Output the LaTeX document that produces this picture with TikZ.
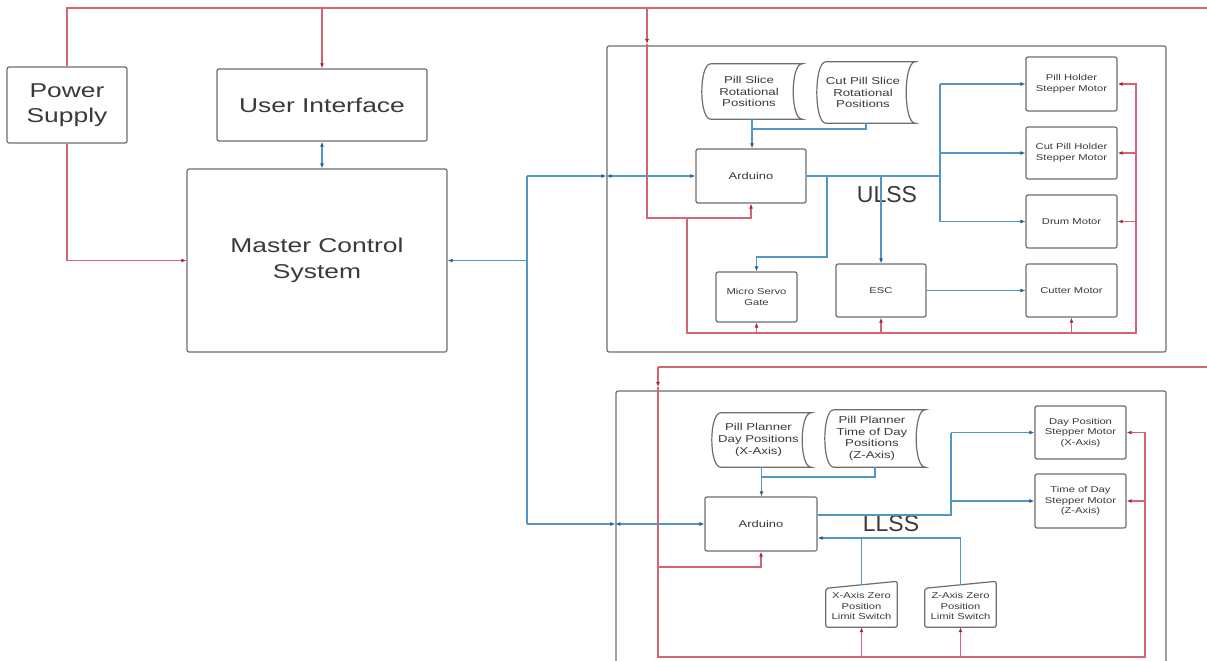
\documentclass[tikz,border=0pt]{standalone}
\usepackage{fontspec}
\setmainfont{Liberation Sans}
\newfontfamily\widesans{Liberation Sans}[FakeStretch=1.32]
\usetikzlibrary{arrows.meta,calc}

\definecolor{pwr}{HTML}{D46474}
\definecolor{pwrtip}{HTML}{A02A3C}
\definecolor{sig}{HTML}{5296C6}
\definecolor{sigtip}{HTML}{2B5F88}
\definecolor{edge}{HTML}{6E6E6E}
\definecolor{ink}{HTML}{3A3A3A}

\tikzset{
  box/.style={draw=edge, line width=1.2pt, rounded corners=2pt, align=center,
    text=ink, inner sep=0pt},
  frame/.style={draw=edge, line width=1.2pt, rounded corners=2pt, inner sep=0pt},
  ghost/.style={draw=none, align=center, text=ink, inner sep=0pt},
  shapeedge/.style={draw=edge, line width=1.2pt},
  bigtxt/.style={font=\widesans\fontsize{20}{25}\selectfont},
  labeltxt/.style={font=\fontsize{23}{26}\selectfont, text=ink},
  datatxt/.style={font=\widesans\fontsize{10}{11.8}\selectfont},
  ardtxt/.style={font=\widesans\fontsize{9.8}{11}\selectfont},
  smalltxt/.style={font=\widesans\fontsize{8.5}{10.5}\selectfont},
  redline/.style={draw=pwr, line width=1.3pt},
  redarrow/.style={draw=pwr, line width=1.3pt, -{Latex[length=5pt,width=4pt,color=pwrtip]}},
  sigline/.style={draw=sig, line width=1.3pt},
  sigarrow/.style={draw=sig, line width=1.3pt, -{Latex[length=5pt,width=4pt,color=sigtip]}},
  sigboth/.style={draw=sig, line width=1.3pt,
    {Latex[length=5pt,width=4pt,color=sigtip]}-{Latex[length=5pt,width=4pt,color=sigtip]}},
}

% stored-data outline: left edge bulges out, right edge curves in
\newcommand\storedshape[1]{%
  \draw[shapeedge] ([xshift=9pt]#1.north west) -- (#1.north east)
    .. controls ([xshift=-12pt]#1.north east) and ([xshift=-12pt]#1.south east) .. (#1.south east)
    -- ([xshift=9pt]#1.south west)
    .. controls ([xshift=-3pt]#1.south west) and ([xshift=-3pt]#1.north west) .. cycle;}
% manual-input outline: slanted top edge
\newcommand\switchshape[1]{%
  \draw[shapeedge, rounded corners=2pt] ([yshift=-3.5pt]#1.north west) -- ([yshift=3.5pt]#1.north east)
    -- (#1.south east) -- (#1.south west) -- cycle;}

\begin{document}
\begin{tikzpicture}[x=1pt,y=-1pt]
\useasboundingbox (0,0) rectangle (1207,661);
\clip (0,0) rectangle (1207,661);
\fill[white] (0,0) rectangle (1207,661);

% ---------- main blocks ----------
\node[box, bigtxt, minimum width=120pt, minimum height=76pt] (ps) at (67,105) {Power\\Supply};
\node[box, bigtxt, minimum width=210pt, minimum height=72pt] (ui) at (322,105) {User Interface};
\node[box, bigtxt, minimum width=260pt, minimum height=183pt, font=\widesans\fontsize{20}{26}\selectfont] (mcs) at (317,260.5) {Master Control\\System};

% ---------- upper subsystem ----------
\node[frame, minimum width=559pt, minimum height=306pt] (ulss) at (886.5,199) {};
\node[labeltxt] (ulsslabel) at (887,195) {ULSS};

\node[box, ardtxt, minimum width=110pt, minimum height=54pt] (ard) at (751,176) {Arduino};
\node[ghost, minimum width=100pt, minimum height=55pt] (psrp) at (752,91.5) {};
\node[ghost, minimum width=98pt, minimum height=61pt] (cpsrp) at (866,92.5) {};
\storedshape{psrp}
\storedshape{cpsrp}
\node[ghost, datatxt] (psrptxt) at ([xshift=-3pt]psrp.center) {Pill Slice\\Rotational\\Positions};
\node[ghost, datatxt] (cpsrptxt) at ([xshift=-3pt]cpsrp.center) {Cut Pill Slice\\Rotational\\Positions};

\node[box, smalltxt, minimum width=91pt, minimum height=54pt] (phsm) at (1071.5,84) {Pill Holder\\Stepper Motor};
\node[box, smalltxt, minimum width=91pt, minimum height=52pt] (cphsm) at (1071.5,153) {Cut Pill Holder\\Stepper Motor};
\node[box, smalltxt, minimum width=91pt, minimum height=53pt] (drum) at (1071.5,221.5) {Drum Motor};
\node[box, smalltxt, minimum width=91pt, minimum height=53pt] (cutter) at (1071.5,290.5) {Cutter Motor};
\node[box, smalltxt, minimum width=81pt, minimum height=50pt] (msg) at (756.5,297) {Micro Servo\\Gate};
\node[box, smalltxt, minimum width=90pt, minimum height=53pt] (esc) at (881,290.5) {ESC};

% ---------- lower subsystem ----------
\node[frame, minimum width=550pt, minimum height=309pt] (llss) at (891,545.5) {};
\node[labeltxt] (llsslabel) at (891,524) {LLSS};

\node[box, ardtxt, minimum width=112pt, minimum height=54pt] (lard) at (761,524) {Arduino};
\node[ghost, minimum width=99pt, minimum height=54pt] (ppd) at (761.5,440) {};
\node[ghost, minimum width=100pt, minimum height=57pt] (pptd) at (875,438.5) {};
\storedshape{ppd}
\storedshape{pptd}
\node[ghost, datatxt] (ppdtxt) at ([xshift=-3pt]ppd.center) {Pill Planner\\Day Positions\\(X-Axis)};
\node[ghost, datatxt] (pptdtxt) at ([xshift=-3pt]pptd.center) {Pill Planner\\Time of Day\\Positions\\(Z-Axis)};

\node[box, smalltxt, minimum width=91pt, minimum height=53pt] (dpsm) at (1080.5,432.5) {Day Position\\Stepper Motor\\(X-Axis)};
\node[box, smalltxt, minimum width=91pt, minimum height=54pt] (tdsm) at (1080.5,501) {Time of Day\\Stepper Motor\\(Z-Axis)};
\node[ghost, smalltxt, minimum width=71pt, minimum height=42pt] (xsw) at (861.5,606) {X-Axis Zero\\Position\\Limit Switch};
\node[ghost, smalltxt, minimum width=71pt, minimum height=42pt] (zsw) at (960.5,606) {Z-Axis Zero\\Position\\Limit Switch};
\switchshape{xsw}
\switchshape{zsw}

% ---------- power distribution ----------
\coordinate (pstop) at (67,8);
\coordinate (topR) at (1212,8);
\draw[redline] (ps.north) -- (pstop) -- (topR);
\coordinate (uitap) at (322,8);
\draw[redarrow] (uitap) -- (ui.north);
\coordinate (psbend) at (67,260.5);
\draw[redarrow] (ps.south) -- (psbend) -- (psbend -| mcs.west);

% upper subsystem supply
\coordinate (ultap) at (647,8);
\coordinate (ulin) at (647,44);
\coordinate (ulcorner) at (647,218);
\draw[redarrow] (ultap) -- (ulin);
\draw[redarrow] (ulin) -- (ulcorner) -| (ard.south);
\coordinate (ulfeed) at (687,218);
\coordinate (ulbotL) at (687,333);
\coordinate (ulbotR) at (1136,333);
\draw[redarrow] (ulfeed) -- (ulbotL) -- (ulbotR) -- (ulbotR |- phsm.east) -- (phsm.east);
\draw[redarrow] (msg.south |- ulbotL) -- (msg.south);
\draw[redarrow] (esc.south |- ulbotL) -- (esc.south);
\draw[redarrow] (cutter.south |- ulbotL) -- (cutter.south);
\draw[redarrow] (ulbotR |- cphsm.east) -- (cphsm.east);
\draw[redarrow] (ulbotR |- drum.east) -- (drum.east);

% lower subsystem supply
\coordinate (lltopL) at (658,367);
\coordinate (lltopR) at (1212,367);
\coordinate (llin) at (658,387);
\draw[redline] (lltopL) -- (lltopR);
\draw[redarrow] (lltopL) -- (llin);
\coordinate (llbotL) at (658,657);
\coordinate (llbotR) at (1145,657);
\draw[redarrow] (llin) -- (llbotL) -- (llbotR) -- (llbotR |- dpsm.east) -- (dpsm.east);
\coordinate (llfeed) at (658,567);
\draw[redarrow] (llfeed) -| (lard.south);
\draw[redarrow] (xsw.south |- llbotL) -- (xsw.south);
\draw[redarrow] (zsw.south |- llbotL) -- (zsw.south);
\draw[redarrow] (llbotR |- tdsm.east) -- (tdsm.east);

% ---------- signal bus ----------
\draw[sigboth] (ui.south) -- (ui.south |- mcs.north);
\coordinate (busT) at (527,176);
\coordinate (busM) at (527,260.5);
\coordinate (busB) at (527,524);
\draw[sigline] (busT) -- (busB);
\draw[sigarrow] (busM) -- (mcs.east);
\draw[sigarrow] (busT) -- (busT -| ulss.west);
\draw[sigboth] (ulss.west |- ard.west) -- (ard.west);
\draw[sigarrow] (busB) -- (busB -| llss.west);
\draw[sigboth] (llss.west |- lard.west) -- (lard.west);

% upper subsystem signals
\draw[sigarrow] (psrp.south) -- (psrp.south |- ard.north);
\coordinate (psjoin) at (752,129);
\draw[sigline] (cpsrp.south) |- (psjoin);
\coordinate (ulfan) at (940,176);
\coordinate (ulfanT) at (940,84);
\coordinate (ulfanB) at (940,221.5);
\draw[sigline] (ard.east) -- (ulfan);
\draw[sigline] (ulfanT) -- (ulfanB);
\draw[sigarrow] (ulfanT) -- (phsm.west);
\draw[sigarrow] (ulfan |- cphsm.west) -- (cphsm.west);
\draw[sigarrow] (ulfanB) -- (drum.west);
\coordinate (srvtap) at (827,176);
\coordinate (srvbend) at (827,257);
\draw[sigarrow] (srvtap) -- (srvbend) -| (msg.north);
\draw[sigarrow] (esc.north |- ard.east) -- (esc.north);
\draw[sigarrow] (esc.east) -- (cutter.west);

% lower subsystem signals
\draw[sigarrow] (ppd.south) -- (ppd.south |- lard.north);
\coordinate (ppjoin) at (761.5,477);
\draw[sigline] (pptd.south) |- (ppjoin);
\coordinate (llfan) at (951,515);
\draw[sigline] ([yshift=9pt]lard.east) -- (llfan) -- (llfan |- dpsm.west);
\draw[sigarrow] (llfan |- dpsm.west) -- (dpsm.west);
\draw[sigarrow] (llfan |- tdsm.west) -- (tdsm.west);
\coordinate (fbR) at (960.5,538);
\draw[sigarrow] (zsw.north) -- (fbR) -- (fbR -| lard.east);
\draw[sigline] (xsw.north) -- (xsw.north |- fbR);
\end{tikzpicture}
\end{document}
